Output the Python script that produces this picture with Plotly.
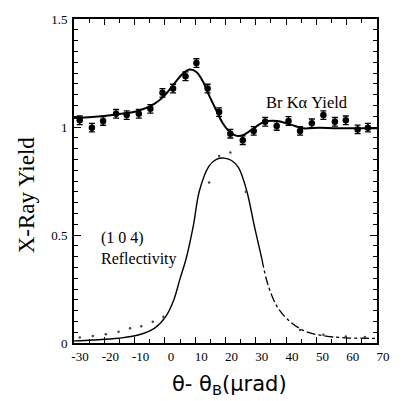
import plotly.graph_objects as go

# Br K-alpha yield data (points with error bars)
yield_x = [-28.1, -24.1, -20.4, -16.1, -12.6, -8.6, -4.8, -0.8, 2.7, 6.8, 10.4, 14.1, 17.9,
           21.6, 25.7, 29.3, 33.1, 36.9, 40.8, 44.6, 48.5, 52.3, 56.1, 59.7, 63.6, 67.0]
yield_y = [1.031, 0.997, 1.028, 1.061, 1.055, 1.061, 1.084, 1.158, 1.178, 1.235, 1.296, 1.178, 1.069,
           0.969, 0.939, 0.982, 1.024, 1.005, 1.028, 0.982, 1.017, 1.055, 1.024, 1.031, 0.989, 0.997]
yield_err = [0.02] * len(yield_x)

# fitted Br K-alpha yield curve
fit_x = [-30, -24, -16, -9, -3.5, -0.3, 2.9, 6.1, 8.2, 10.4, 12.5, 14.7, 16.8, 19.0, 21.1,
         23.8, 25.9, 29.6, 32.8, 37.1, 41.4, 45.6, 51, 56.3, 61.7, 67, 70]
fit_y = [1.042, 1.046, 1.058, 1.074, 1.107, 1.143, 1.197, 1.250, 1.266, 1.255, 1.212, 1.143, 1.082,
         1.020, 0.982, 0.959, 0.963, 0.997, 1.024, 1.028, 1.012, 0.994, 0.997, 0.994, 0.994, 0.994, 0.994]

# (1 0 4) reflectivity curve
refl_x = [-30, -23.8, -15.3, -8.8, -3.5, 0.2, 2.9, 5.0, 7.0, 9.3, 11.4, 14.6, 17, 19.5, 22,
          24.3, 27.0, 29.6, 32.0, 33.9, 37.1, 41.4, 46.7, 53.1, 59.5, 66.0, 70]
refl_y = [0.010, 0.014, 0.022, 0.037, 0.068, 0.121, 0.198, 0.298, 0.390, 0.536, 0.705, 0.820, 0.850,
          0.856, 0.845, 0.812, 0.705, 0.536, 0.390, 0.275, 0.167, 0.098, 0.052, 0.032, 0.024, 0.022, 0.021]

# reflectivity measured points (faint dots)
rdot_x = [-28.1, -23.8, -19.5, -15.3, -11.5, -7.8, -4.0, -0.5, 14.6, 17.9, 21.6, 26.7, 44.6, 52.3, 59.7, 66.0]
rdot_y = [0.026, 0.032, 0.041, 0.052, 0.068, 0.078, 0.098, 0.121, 0.743, 0.866, 0.882, 0.700, 0.060, 0.038, 0.030, 0.028]

x_ticks = [-30, -20, -10, 0, 10, 20, 30, 40, 50, 60, 70]
y_ticks = [0, 0.5, 1, 1.5]
y_ticklabels = ["0", "0.5", "1", "1.5"]

split = refl_x.index(32.0)

fig = go.Figure()
fig.add_trace(go.Scatter(x=refl_x[:split + 1], y=refl_y[:split + 1], mode="lines",
                         line=dict(color="black", width=1.4, shape="spline"), hoverinfo="skip"))
fig.add_trace(go.Scatter(x=refl_x[split:], y=refl_y[split:], mode="lines",
                         line=dict(color="black", width=1.3, dash="dashdot", shape="spline"), hoverinfo="skip"))
fig.add_trace(go.Scatter(x=rdot_x, y=rdot_y, mode="markers",
                         marker=dict(color="#444", size=2.5), hoverinfo="skip"))
fig.add_trace(go.Scatter(x=fit_x, y=fit_y, mode="lines",
                         line=dict(color="black", width=2, shape="spline")))
fig.add_trace(go.Scatter(x=yield_x, y=yield_y, mode="markers",
                         marker=dict(color="black", size=6.5, symbol="circle"),
                         error_y=dict(type="data", array=yield_err, color="black", thickness=1.3, width=3)))

serif = "Liberation Serif"
fig.update_layout(
    width=402, height=401,
    margin=dict(l=74, r=16, t=17, b=58),
    paper_bgcolor="white", plot_bgcolor="white",
    showlegend=False,
    font=dict(family=serif, color="black", size=13),
    xaxis=dict(range=[-30, 70], tickvals=x_ticks, ticktext=[str(v) for v in x_ticks],
               ticks="inside", ticklen=6, tickwidth=1.2, tickcolor="black",
               minor=dict(dtick=5, ticks="inside", ticklen=4, tickcolor="black", tickwidth=1),
               showline=True, linecolor="black", linewidth=1.8, mirror="ticks",
               showgrid=False, zeroline=False, ticklabelshift=6,
               tickfont=dict(family=serif, size=13)),
    yaxis=dict(range=[0, 1.5], tickvals=y_ticks, ticktext=y_ticklabels,
               ticks="inside", ticklen=7, tickwidth=1.2, tickcolor="black",
               minor=dict(dtick=0.05, ticks="inside", ticklen=4, tickcolor="black", tickwidth=1),
               showline=True, linecolor="black", linewidth=1.8, mirror="ticks",
               showgrid=False, zeroline=False, ticklabelstandoff=2,
               tickfont=dict(family=serif, size=13)),
    annotations=[
        dict(x=46.8, y=1.115, xref="x", yref="y", text="Br Kα Yield", showarrow=False,
             font=dict(family=serif, size=16.5), xanchor="center", yanchor="middle"),
        dict(x=-21.7, y=0.436, xref="x", yref="y", text="(1 0 4)<br>Reflectivity", showarrow=False,
             align="left", font=dict(family=serif, size=16), xanchor="left", yanchor="middle"),
        dict(x=-0.154, y=0.457, xref="paper", yref="paper", text="X-Ray Yield", showarrow=False,
             textangle=-90, font=dict(family=serif, size=23), xanchor="center", yanchor="middle"),
        dict(x=0.513, y=-0.129, xref="paper", yref="paper", text="θ- θ<sub>B</sub>(μrad)", showarrow=False,
             font=dict(family="DejaVu Sans", size=21), xanchor="center", yanchor="middle"),
    ],
)

fig.write_html("out.html", config={"displayModeBar": False},
               post_script="document.body.style.margin='0';document.body.style.overflow='hidden';")
